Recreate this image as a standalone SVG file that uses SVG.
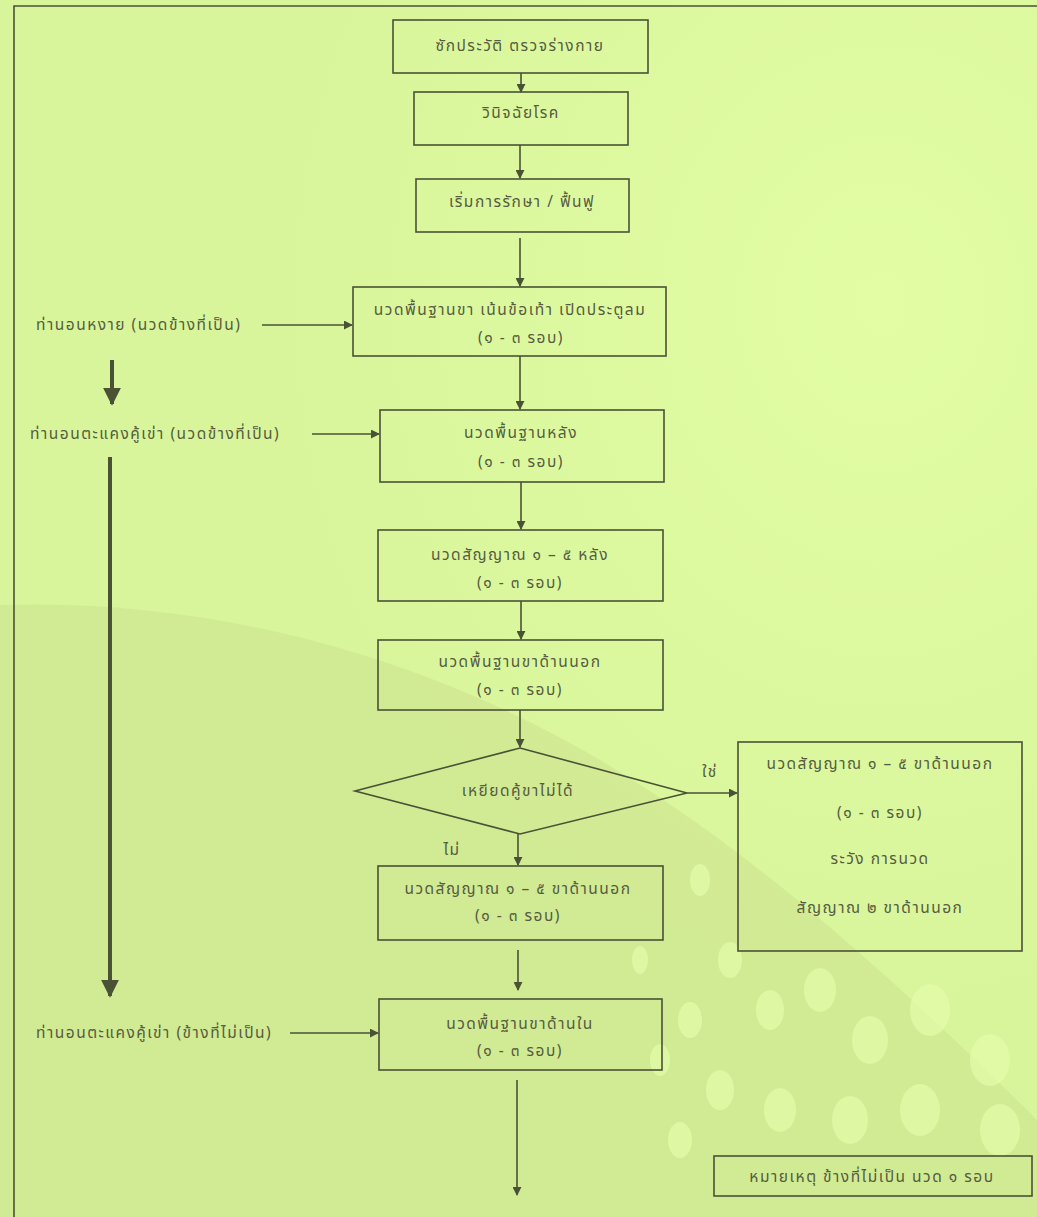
<svg xmlns="http://www.w3.org/2000/svg" width="1037" height="1217" viewBox="0 0 1037 1217">
  <defs>
    <marker id="ah" viewBox="0 0 10 10" refX="9" refY="5" markerWidth="9" markerHeight="9" markerUnits="userSpaceOnUse" orient="auto">
      <path d="M0,0 L10,5 L0,10 Z" fill="#4a5236"/>
    </marker>
    <marker id="ahBig" viewBox="0 0 10 10" refX="9" refY="5" markerWidth="18" markerHeight="18" markerUnits="userSpaceOnUse" orient="auto">
      <path d="M0,0 L10,5 L0,10 Z" fill="#4a5236"/>
    </marker>
    <radialGradient id="glow" cx="0.85" cy="0.25" r="0.6">
      <stop offset="0" stop-color="#e2fda4"/>
      <stop offset="1" stop-color="#d8f59b"/>
    </radialGradient>
  </defs>
  <style>
    .box { fill: none; stroke: #4a5236; stroke-width: 1.6; }
    .link { fill: none; stroke: #4a5236; stroke-width: 1.6; marker-end: url(#ah); }
    .thick { fill: none; stroke: #4a5236; stroke-width: 4; marker-end: url(#ahBig); }
    text { font-family: "Noto Sans Thai", "Noto Sans", "DejaVu Sans", sans-serif; font-size: 15.5px; letter-spacing: 1.5px; fill: #565c40; text-anchor: middle; dominant-baseline: central; }
    .lbl { text-anchor: start; }
  </style>

  <!-- page background with soft swoosh and dot pattern -->
  <rect width="1037" height="1217" fill="url(#glow)"/>
  <path d="M0,605 C220,598 430,660 600,760 C760,855 900,985 1037,1120 L1037,1217 L0,1217 Z" fill="#cfe792" opacity="0.8"/>
  <g fill="#e4fdaa" opacity="0.7">
    <ellipse cx="700" cy="880" rx="10" ry="16"/>
    <ellipse cx="730" cy="960" rx="12" ry="18"/>
    <ellipse cx="770" cy="1010" rx="14" ry="20"/>
    <ellipse cx="820" cy="990" rx="16" ry="22"/>
    <ellipse cx="870" cy="1040" rx="18" ry="24"/>
    <ellipse cx="930" cy="1010" rx="20" ry="26"/>
    <ellipse cx="990" cy="1060" rx="20" ry="26"/>
    <ellipse cx="690" cy="1020" rx="12" ry="18"/>
    <ellipse cx="720" cy="1090" rx="14" ry="20"/>
    <ellipse cx="780" cy="1110" rx="16" ry="22"/>
    <ellipse cx="850" cy="1120" rx="18" ry="24"/>
    <ellipse cx="920" cy="1110" rx="20" ry="26"/>
    <ellipse cx="1000" cy="1130" rx="20" ry="26"/>
    <ellipse cx="680" cy="1140" rx="12" ry="18"/>
    <ellipse cx="660" cy="1060" rx="10" ry="16"/>
    <ellipse cx="640" cy="960" rx="8" ry="14"/>
  </g>

  <!-- outer frame -->
  <path d="M14,1217 L14,6 L1037,6" fill="none" stroke="#4a5236" stroke-width="1.6"/>

  <!-- connectors -->
  <g id="connectors">
    <line class="link" x1="521" y1="73" x2="521" y2="92"/>
    <line class="link" x1="520" y1="145" x2="520" y2="178"/>
    <line class="link" x1="520" y1="238" x2="520" y2="286"/>
    <line class="link" x1="520" y1="356" x2="520" y2="409"/>
    <line class="link" x1="521" y1="482" x2="521" y2="529"/>
    <line class="link" x1="521" y1="601" x2="521" y2="639"/>
    <line class="link" x1="520" y1="710" x2="520" y2="747"/>
    <line class="link" x1="687" y1="793" x2="737" y2="793"/>
    <line class="link" x1="518" y1="834" x2="518" y2="865"/>
    <line class="link" x1="518" y1="950" x2="518" y2="990"/>
    <line class="link" x1="517" y1="1080" x2="517" y2="1195"/>
    <line class="link" x1="262" y1="325" x2="352" y2="325"/>
    <line class="link" x1="312" y1="434" x2="379" y2="434"/>
    <line class="link" x1="290" y1="1033" x2="378" y2="1033"/>
    <line class="thick" x1="112" y1="360" x2="112" y2="404"/>
    <line class="thick" x1="110" y1="457" x2="110" y2="996"/>
  </g>

  <!-- nodes -->
  <g id="history">
    <rect class="box" x="393" y="20" width="255" height="53"/>
    <text x="520" y="46">ซักประวัติ  ตรวจร่างกาย</text>
  </g>
  <g id="diagnosis">
    <rect class="box" x="414" y="92" width="214" height="53"/>
    <text x="521" y="113">วินิจฉัยโรค</text>
  </g>
  <g id="start-treatment">
    <rect class="box" x="416" y="179" width="213" height="53"/>
    <text x="522" y="202">เริ่มการรักษา / ฟื้นฟู</text>
  </g>
  <g id="supine-label">
    <text class="lbl" x="36" y="325">ท่านอนหงาย (นวดข้างที่เป็น)</text>
  </g>
  <g id="leg-basic">
    <rect class="box" x="353" y="287" width="313" height="69"/>
    <text x="510" y="310">นวดพื้นฐานขา  เน้นข้อเท้า  เปิดประตูลม</text>
    <text x="521" y="338">(๑ - ๓  รอบ)</text>
  </g>
  <g id="side-affected-label">
    <text class="lbl" x="30" y="434">ท่านอนตะแคงคู้เข่า (นวดข้างที่เป็น)</text>
  </g>
  <g id="back-basic">
    <rect class="box" x="380" y="410" width="284" height="72"/>
    <text x="521" y="433">นวดพื้นฐานหลัง</text>
    <text x="521" y="462">(๑ - ๓  รอบ)</text>
  </g>
  <g id="back-signal">
    <rect class="box" x="378" y="530" width="285" height="71"/>
    <text x="520" y="555">นวดสัญญาณ  ๑ – ๕ หลัง</text>
    <text x="520" y="583">(๑ - ๓  รอบ)</text>
  </g>
  <g id="outer-leg-basic">
    <rect class="box" x="378" y="640" width="285" height="70"/>
    <text x="520" y="662">นวดพื้นฐานขาด้านนอก</text>
    <text x="520" y="690">(๑ - ๓  รอบ)</text>
  </g>
  <g id="decision">
    <polygon class="box" points="520,748 687,793 520,834 355,791"/>
    <text x="518" y="791">เหยียดคู้ขาไม่ได้</text>
    <text x="710" y="772">ใช่</text>
    <text x="452" y="850">ไม่</text>
  </g>
  <g id="caution">
    <rect class="box" x="738" y="742" width="284" height="209"/>
    <text x="880" y="764">นวดสัญญาณ  ๑ – ๕ ขาด้านนอก</text>
    <text x="880" y="813">(๑ - ๓  รอบ)</text>
    <text x="880" y="859">ระวัง  การนวด</text>
    <text x="880" y="908">สัญญาณ ๒  ขาด้านนอก</text>
  </g>
  <g id="outer-leg-signal">
    <rect class="box" x="378" y="866" width="285" height="74"/>
    <text x="518" y="889">นวดสัญญาณ  ๑ – ๕ ขาด้านนอก</text>
    <text x="518" y="916">(๑ - ๓  รอบ)</text>
  </g>
  <g id="side-unaffected-label">
    <text class="lbl" x="36" y="1033">ท่านอนตะแคงคู้เข่า (ข้างที่ไม่เป็น)</text>
  </g>
  <g id="inner-leg-basic">
    <rect class="box" x="379" y="999" width="283" height="71"/>
    <text x="520" y="1024">นวดพื้นฐานขาด้านใน</text>
    <text x="520" y="1051">(๑ - ๓  รอบ)</text>
  </g>
  <g id="note">
    <rect class="box" x="714" y="1156" width="318" height="40"/>
    <text x="872" y="1177">หมายเหตุ ข้างที่ไม่เป็น นวด ๑ รอบ</text>
  </g>
</svg>
